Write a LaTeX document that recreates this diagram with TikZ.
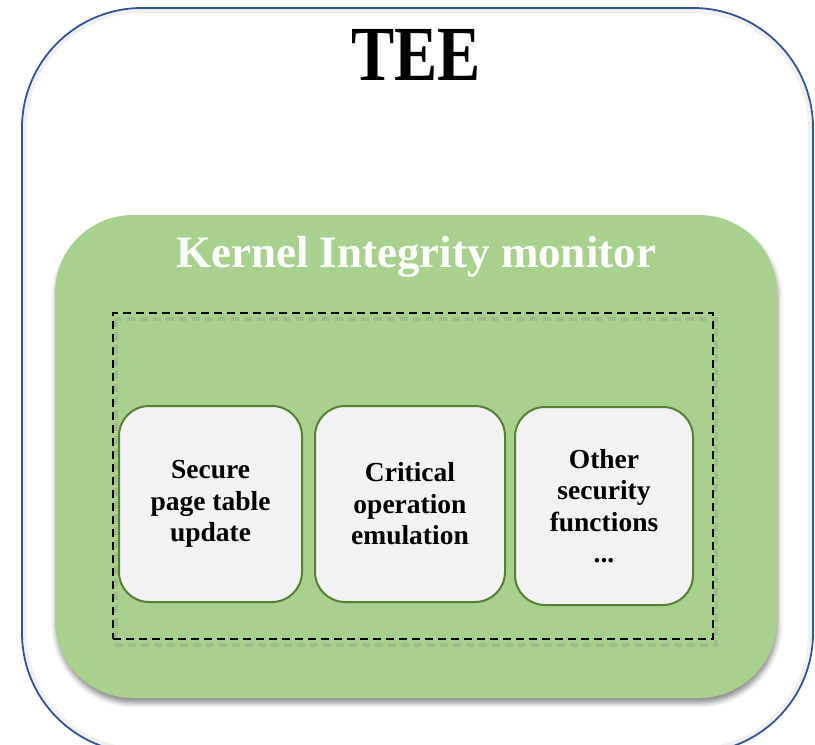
\documentclass[tikz,border=0pt]{standalone}
\usepackage{fontspec}
\setmainfont{Liberation Serif}
\usetikzlibrary{shadows,shadows.blur}
\definecolor{teeblue}{HTML}{2F5597}
\definecolor{kimgreen}{HTML}{A9D18E}
\definecolor{boxgreen}{HTML}{548235}
\definecolor{boxfill}{HTML}{F2F2F2}
\begin{document}
\begin{tikzpicture}[x=1pt,y=-1pt,
  teebox/.style={draw=teeblue, line width=1.8pt, rounded corners=120pt,
    inner sep=0pt, minimum width=791pt, minimum height=745pt},
  kimbox/.style={fill=kimgreen, rounded corners=78pt, inner sep=0pt,
    minimum width=722pt, minimum height=483pt,
    blur shadow={shadow xshift=1pt, shadow yshift=-5pt, shadow blur radius=5pt, shadow opacity=45}},
  groupbox/.style={draw=black, line width=2.4pt, dash pattern=on 8pt off 5pt,
    inner sep=0pt, minimum width=600pt, minimum height=326pt},
  groupshade/.style={draw=black!45, opacity=0.3, line width=4pt, dash pattern=on 8pt off 5pt},
  funcbox/.style={draw=boxgreen, line width=2pt, fill=boxfill, rounded corners=30pt,
    inner sep=0pt, minimum height=196pt, align=center,
    font=\fontsize{27.5}{31.5}\selectfont\bfseries},
  title/.style={anchor=base, inner sep=0pt}
]
\useasboundingbox (0,0) rectangle (815,745);
\clip (0,0) rectangle (815,745);

% soft halo just inside the outer frame
\draw[black!6, line width=4pt, rounded corners=117pt]
  (25,11) rectangle (810,750);

% trusted execution environment
\node[teebox] (tee) at (417.5,380.5) {};
\node[title, font=\fontsize{78}{80}\selectfont\bfseries] (teetitle) at (416,80)
  {\scalebox{0.83}[1]{TEE}};

% kernel integrity monitor
\node[kimbox] (kim) at (416,456.5) {};
\node[title, text=white, font=\fontsize{45}{48}\selectfont\bfseries] (kimtitle) at (416,267)
  {Kernel Integrity monitor};

% group of security functions, with its shade
\draw[groupshade] (115.5,319) rectangle (715.5,645);
\node[groupbox] (group) at (413,476) {};

\node[funcbox, minimum width=183pt] (ptu) at (210.5,504)
  {Secure\\page table\\update};
\node[funcbox, minimum width=190pt] (coe) at (410,504)
  {Critical\\operation\\emulation};
\node[funcbox, minimum width=178pt, minimum height=198pt] (osf) at (604,506)
  {Other\\security\\functions\\...};
\end{tikzpicture}
\end{document}
